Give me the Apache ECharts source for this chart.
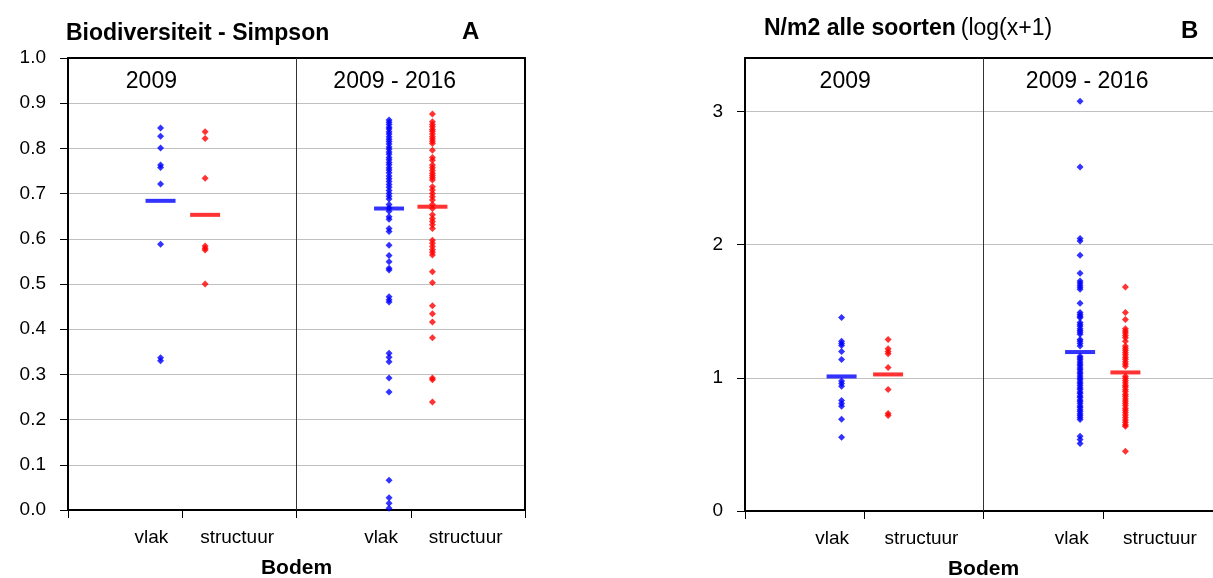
<!DOCTYPE html>
<html>
<head>
<meta charset="utf-8">
<script src="https://cdn.jsdelivr.net/npm/echarts@6/dist/echarts.min.js"></script>
<style>
  html, body { margin: 0; padding: 0; background: #fff; }
  #chart { width: 1213px; height: 578px; }
</style>
</head>
<body>
<div id="chart"></div>
<script>
// labels
var groups = ['2009', '2009 - 2016']
var bodem = ['vlak', 'structuur']
var ticksA = [0, 0.1, 0.2, 0.3, 0.4, 0.5, 0.6, 0.7, 0.8, 0.9, 1.0]
var ticksB = [0, 1, 2, 3]

// A: Biodiversiteit - Simpson
var a2009Vlak = [0.845, 0.827, 0.801, 0.763, 0.758, 0.721, 0.588, 0.337, 0.330]
var a2009Struct = [0.837, 0.822, 0.734, 0.584, 0.579, 0.575, 0.500]
var aAllVlak = [0.863, 0.858, 0.853, 0.847, 0.843, 0.837, 0.832, 0.826, 0.820, 0.815, 0.810, 0.803,
  0.798, 0.792, 0.787, 0.780, 0.775, 0.769, 0.764, 0.757, 0.752, 0.746, 0.739, 0.733, 0.727, 0.720,
  0.714, 0.707, 0.700, 0.694, 0.688, 0.676, 0.668, 0.661, 0.649, 0.643, 0.623, 0.616, 0.586, 0.563,
  0.549, 0.535, 0.531, 0.472, 0.465, 0.460, 0.347, 0.338, 0.328, 0.292, 0.261, 0.066, 0.027, 0.015, 0.004]
var aAllStruct = [0.876, 0.859, 0.853, 0.848, 0.842, 0.838, 0.832, 0.826, 0.821, 0.816, 0.811, 0.796,
  0.780, 0.774, 0.763, 0.757, 0.751, 0.745, 0.740, 0.735, 0.730, 0.715, 0.708, 0.700, 0.693, 0.686,
  0.676, 0.667, 0.653, 0.645, 0.638, 0.631, 0.623, 0.597, 0.590, 0.583, 0.576, 0.570, 0.564, 0.527,
  0.503, 0.452, 0.434, 0.416, 0.381, 0.292, 0.288, 0.239]
var meansA = [0.684, 0.653, 0.667, 0.671] // vlak, structuur, vlak, structuur

// B: N/m2 alle soorten (log(x+1))
var b2009Vlak = [1.453, 1.275, 1.258, 1.243, 1.198, 1.138, 0.975, 0.957, 0.937, 0.829, 0.807, 0.787, 0.689, 0.553]
var b2009Struct = [1.288, 1.218, 1.198, 1.180, 1.077, 0.912, 0.732, 0.717]
var bAllVlak = [3.075, 2.581, 2.045, 2.027, 1.920, 1.784, 1.726, 1.712, 1.694, 1.680, 1.664, 1.559,
  1.489, 1.474, 1.462, 1.451, 1.414, 1.399, 1.386, 1.368, 1.354, 1.341, 1.326, 1.288, 1.274, 1.258,
  1.238, 1.162, 1.148, 1.136, 1.119, 1.104, 1.091, 1.074, 1.060, 1.043, 1.031, 1.014, 0.998, 0.986,
  0.969, 0.955, 0.941, 0.924, 0.911, 0.893, 0.881, 0.864, 0.851, 0.834, 0.821, 0.806, 0.788, 0.776,
  0.759, 0.746, 0.729, 0.716, 0.701, 0.686, 0.561, 0.536, 0.506]
var bAllStruct = [1.681, 1.489, 1.438, 1.368, 1.351, 1.336, 1.317, 1.301, 1.275, 1.238, 1.221, 1.206,
  1.189, 1.173, 1.154, 1.139, 1.121, 1.104, 1.087, 1.012, 0.996, 0.979, 0.963, 0.944, 0.931, 0.912,
  0.896, 0.876, 0.861, 0.842, 0.826, 0.809, 0.791, 0.772, 0.756, 0.739, 0.721, 0.702, 0.683, 0.666,
  0.648, 0.636, 0.448]
var meansB = [1.010, 1.025, 1.193, 1.040]

var BLUE = '#0000ff', RED = '#ff0000'
var FONT = 'Liberation Sans, Arial, sans-serif'
var xPos = [0.81, 1.2, 2.81, 3.19]      // column position on the 0..4 axis
var labelPos = [0.73, 1.48, 2.74, 3.48]
var colors = [BLUE, RED, BLUE, RED]

function pts(x, vals) {
  return vals.map(function (v) { return [x, v] })
}

function panelSeries(idx, cols, means) {
  var out = []
  cols.forEach(function (vals, i) {
    out.push({
      type: 'scatter', xAxisIndex: idx * 2, yAxisIndex: idx * 2,
      symbol: 'diamond', symbolSize: 7, silent: true,
      itemStyle: { color: colors[i] },
      data: pts(xPos[i], vals),
      markLine: i === 0 ? {
        silent: true, symbol: 'none', label: { show: false },
        lineStyle: { color: '#333', width: 1, type: 'solid' },
        data: [{ xAxis: 2 }]
      } : undefined
    })
    out.push({
      type: 'scatter', xAxisIndex: idx * 2, yAxisIndex: idx * 2,
      symbol: 'rect', symbolSize: [30, 4], silent: true, z: 3,
      itemStyle: { color: colors[i] },
      data: [[xPos[i], means[i]]]
    })
  })
  return out
}

function bottomAxis(grid, lpos) {
  return {
    type: 'value', gridIndex: grid, min: 0, max: 4, position: 'bottom',
    axisLine: { onZero: false, lineStyle: { color: '#000', width: 2 } },
    axisTick: { show: true, length: 8, customValues: [0, 1, 2, 3, 4], lineStyle: { color: '#000', width: 1 } },
    axisLabel: {
      customValues: lpos, color: '#000', fontSize: 19, fontFamily: FONT, margin: 18,
      formatter: function (v) {
        var k = lpos.findIndex(function (p) { return Math.abs(p - v) < 1e-6 })
        return bodem[k % 2]
      }
    },
    splitLine: { show: false },
    name: 'Bodem', nameLocation: 'middle', nameGap: 48,
    nameTextStyle: { color: '#000', fontSize: 21, fontWeight: 'bold', fontFamily: FONT }
  }
}

function topAxis(grid, gpos) {
  return {
    type: 'value', gridIndex: grid, min: 0, max: 4, position: 'top',
    axisLine: { show: true, onZero: false, lineStyle: { color: '#000', width: 2 } },
    axisTick: { show: false },
    axisLabel: {
      inside: true, customValues: gpos, color: '#000', fontSize: 23, fontFamily: FONT, margin: 12,
      formatter: function (v) {
        var k = gpos.findIndex(function (p) { return Math.abs(p - v) < 1e-6 })
        return groups[k]
      }
    },
    splitLine: { show: false }
  }
}

var chart = echarts.init(document.getElementById('chart'))
chart.setOption({
  animation: false,
  textStyle: { fontFamily: FONT },
  title: [
    { text: 'Biodiversiteit - Simpson', left: 61, top: 17,
      textStyle: { fontSize: 23, fontWeight: 'bold', color: '#000', fontFamily: FONT } },
    { text: 'A', left: 457, top: 15,
      textStyle: { fontSize: 24, fontWeight: 'bold', color: '#000', fontFamily: FONT } },
    { text: '{b|N/m2 alle soorten} {n|(log(x+1)}', left: 759, top: 12,
      textStyle: { rich: {
        b: { fontSize: 23, fontWeight: 'bold', color: '#000', fontFamily: FONT },
        n: { fontSize: 23, fontWeight: 'normal', color: '#000', fontFamily: FONT }
      } } },
    { text: 'B', left: 1176, top: 14,
      textStyle: { fontSize: 24, fontWeight: 'bold', color: '#000', fontFamily: FONT } }
  ],
  grid: [
    { left: 68, width: 457, top: 58, height: 452, outerBoundsMode: 'none', containLabel: false },
    { left: 745, width: 477, top: 58, height: 453, outerBoundsMode: 'none', containLabel: false }
  ],
  xAxis: [
    bottomAxis(0, labelPos), topAxis(0, [0.73, 2.86]),
    bottomAxis(1, labelPos), topAxis(1, [0.84, 2.87])
  ],
  yAxis: [
    {
      type: 'value', gridIndex: 0, min: 0, max: 1, interval: 0.1, position: 'left',
      axisLine: { show: true, onZero: false, lineStyle: { color: '#000', width: 2 } },
      axisTick: { show: true, length: 8, lineStyle: { color: '#000', width: 1 } },
      axisLabel: { color: '#000', fontSize: 19, fontFamily: FONT, margin: 22,
        customValues: ticksA, formatter: function (v) { return v.toFixed(1) } },
      splitLine: { lineStyle: { color: '#c0c0c0', width: 1 } }
    },
    {
      type: 'value', gridIndex: 0, min: 0, max: 1, position: 'right',
      axisLine: { show: true, onZero: false, lineStyle: { color: '#000', width: 2 } },
      axisTick: { show: false }, axisLabel: { show: false }, splitLine: { show: false }
    },
    {
      type: 'value', gridIndex: 1, min: 0, max: 3.4, interval: 1, position: 'left',
      axisLine: { show: true, onZero: false, lineStyle: { color: '#000', width: 2 } },
      axisTick: { show: true, length: 8, customValues: ticksB, lineStyle: { color: '#000', width: 1 } },
      axisLabel: { color: '#000', fontSize: 19, fontFamily: FONT, margin: 22, customValues: ticksB },
      splitLine: { lineStyle: { color: '#c0c0c0', width: 1 } }
    },
    {
      type: 'value', gridIndex: 1, min: 0, max: 3.4, position: 'right',
      axisLine: { show: false, onZero: false }, axisTick: { show: false }, axisLabel: { show: false }, splitLine: { show: false }
    }
  ],
  series: [].concat(
    panelSeries(0, [a2009Vlak, a2009Struct, aAllVlak, aAllStruct], meansA),
    panelSeries(1, [b2009Vlak, b2009Struct, bAllVlak, bAllStruct], meansB)
  )
})
</script>
</body>
</html>
